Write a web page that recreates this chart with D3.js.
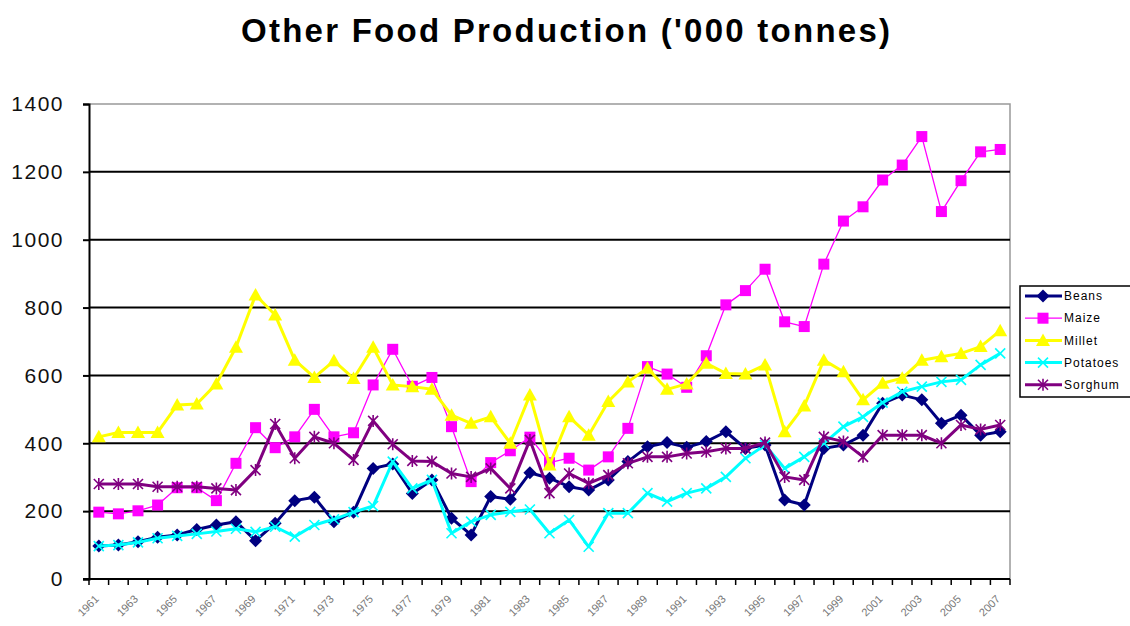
<!DOCTYPE html>
<html>
<head>
<meta charset="utf-8">
<script src="https://cdn.jsdelivr.net/npm/d3@7"></script>
<style>
	body { margin: 0; background: #fff; }
	text { font-family: Arial, "Liberation Sans", sans-serif; }
</style>
</head>
<body>
<script>
// chart data, 1961 - 2007
var years = d3.range(1961, 2008);

var beans = [97, 100, 110, 123, 130, 146, 159, 169, 113, 164,
	231, 241, 169, 197, 326, 339, 252, 292, 179, 130,
	243, 235, 313, 297, 272, 262, 292, 346, 390, 402,
	388, 405, 434, 385, 395, 233, 218, 385, 395, 424,
	518, 542, 528, 459, 483, 424, 434];

var maize = [197, 192, 201, 218, 269, 269, 231, 341, 446, 387,
	419, 500, 419, 431, 572, 677, 568, 594, 449, 287,
	343, 378, 418, 343, 356, 321, 360, 444, 626, 604,
	565, 658, 808, 850, 913, 758, 744, 928, 1055, 1097,
	1176, 1220, 1304, 1083, 1174, 1259, 1266];

var millet = [419, 432, 432, 432, 513, 516, 575, 683, 837, 778,
	645, 594, 643, 591, 683, 572, 567, 559, 483, 459,
	478, 400, 542, 336, 478, 424, 523, 581, 621, 559,
	575, 636, 606, 604, 631, 434, 510, 645, 611, 528,
	577, 592, 645, 655, 665, 685, 732];

var potatoes = [97, 100, 108, 120, 127, 133, 140, 148, 139, 154,
	125, 159, 176, 197, 215, 346, 267, 292, 135, 169,
	189, 198, 205, 135, 174, 95, 194, 194, 253, 228,
	253, 267, 301, 356, 395, 326, 360, 400, 449, 478,
	520, 552, 567, 581, 587, 631, 665];

var sorghum = [280, 280, 280, 272, 272, 272, 267, 262, 321, 457,
	356, 419, 400, 351, 466, 397, 348, 346, 311, 301,
	326, 267, 410, 253, 311, 282, 306, 341, 360, 360,
	370, 375, 385, 385, 402, 301, 292, 419, 405, 360,
	424, 424, 424, 400, 454, 441, 454];

var yTicks = [0, 200, 400, 600, 800, 1000, 1200, 1400];
var xTickLabels = years.filter(function(d){ return d % 2 == 1; });

var seriesNames = ["Beans", "Maize", "Millet", "Potatoes", "Sorghum"];
var seriesValues = [beans, maize, millet, potatoes, sorghum];

// styles per series
var styles = {
	"Beans":    {color: "#000080", width: 3,   marker: "diamond"},
	"Maize":    {color: "#ff00ff", width: 1.3, marker: "square"},
	"Millet":   {color: "#ffff00", width: 3,   marker: "triangle"},
	"Potatoes": {color: "#00ffff", width: 3,   marker: "x"},
	"Sorghum":  {color: "#800080", width: 3,   marker: "star"}
};

var W = 1130, H = 626;
// plot area ("top" is taken by window, so prefixed)
var plotLeft = 89, plotRight = 1010, plotTop = 104, plotBottom = 579;

var svg = d3.select("body").append("svg")
	.attr("width", W)
	.attr("height", H);

var x = d3.scaleBand().domain(years).range([plotLeft, plotRight]).padding(0);
var y = d3.scaleLinear().domain([0, 1400]).range([plotBottom, plotTop]);
var cx = function(yr){ return x(yr) + x.bandwidth() / 2; };

// title
svg.append("text")
	.attr("x", 565.5)
	.attr("y", 42)
	.attr("text-anchor", "middle")
	.attr("textLength", 649)
	.attr("lengthAdjust", "spacing")
	.style("font-size", "33px")
	.style("font-weight", "bold")
	.text("Other Food Production ('000 tonnes)");

// plot border (top / right), grey
svg.append("path")
	.attr("d", "M" + plotLeft + "," + plotTop + "H" + plotRight + "V" + plotBottom)
	.attr("fill", "none")
	.attr("stroke", "#999")
	.attr("stroke-width", 1.5);

// gridlines
svg.append("g")
	.selectAll("line")
	.data(yTicks.filter(function(d){ return d > 0 && d < 1400; }))
	.enter().append("line")
	.attr("x1", plotLeft).attr("x2", plotRight)
	.attr("y1", function(d){ return y(d); })
	.attr("y2", function(d){ return y(d); })
	.attr("stroke", "#000")
	.attr("stroke-width", 2);

// y axis
var yAxis = svg.append("g")
	.attr("transform", "translate(" + plotLeft + ",0)")
	.call(d3.axisLeft(y).tickValues(yTicks).tickFormat(d3.format("d"))
		.tickSize(6).tickPadding(19));
yAxis.select(".domain").attr("stroke", "#000").attr("stroke-width", 2);
yAxis.selectAll(".tick line").attr("stroke", "#000").attr("stroke-width", 2);
yAxis.selectAll(".tick text")
	.style("font-size", "21px")
	.style("letter-spacing", "1.5px")
	.attr("fill", "#111")
	.attr("font-family", null);

// x axis: ticks at category edges
var xEdges = years.map(function(d){ return x(d); }).concat([plotRight]);
svg.append("line")
	.attr("x1", plotLeft - 6).attr("x2", plotRight)
	.attr("y1", plotBottom).attr("y2", plotBottom)
	.attr("stroke", "#000")
	.attr("stroke-width", 2);
svg.append("g")
	.selectAll("line")
	.data(xEdges)
	.enter().append("line")
	.attr("x1", function(d){ return d; })
	.attr("x2", function(d){ return d; })
	.attr("y1", plotBottom)
	.attr("y2", plotBottom + 6)
	.attr("stroke", "#000")
	.attr("stroke-width", 1.5);

// x labels, rotated
svg.append("g")
	.selectAll("text")
	.data(xTickLabels)
	.enter().append("text")
	.attr("transform", function(d){
		return "translate(" + (cx(d) - 2) + "," + (plotBottom + 18) + ") rotate(-45)";
	})
	.attr("text-anchor", "end")
	.attr("dy", "0.35em")
	.style("font-size", "11px")
	.attr("fill", "#777")
	.text(function(d){ return d; });

// marker shapes
function drawMarker(g, type, color, px, py) {
	if (type == "diamond") {
		g.append("path")
			.attr("transform", "translate(" + px + "," + py + ")")
			.attr("d", "M0,-6.5L6.5,0L0,6.5L-6.5,0Z")
			.attr("fill", color);
	} else if (type == "square") {
		g.append("rect")
			.attr("x", px - 5.5).attr("y", py - 5.5)
			.attr("width", 11).attr("height", 11)
			.attr("fill", color);
	} else if (type == "triangle") {
		g.append("path")
			.attr("transform", "translate(" + px + "," + py + ")")
			.attr("d", "M0,-7L7,5.5L-7,5.5Z")
			.attr("fill", color);
	} else if (type == "x") {
		g.append("path")
			.attr("transform", "translate(" + px + "," + py + ")")
			.attr("d", "M-5,-5L5,5M-5,5L5,-5")
			.attr("stroke", color)
			.attr("stroke-width", 1.6);
	} else if (type == "star") {
		g.append("path")
			.attr("transform", "translate(" + px + "," + py + ")")
			.attr("d", "M-5,-5L5,5M-5,5L5,-5M0,-6V6")
			.attr("stroke", color)
			.attr("stroke-width", 1.6);
	}
}

var line = d3.line()
	.x(function(d, i){ return cx(years[i]); })
	.y(function(d){ return y(d); });

// series, drawn in legend order
seriesNames.forEach(function(name, k){
	var st = styles[name];
	var g = svg.append("g").attr("id", "series_" + name);
	g.append("path")
		.datum(seriesValues[k])
		.attr("d", line)
		.attr("fill", "none")
		.attr("stroke", st.color)
		.attr("stroke-width", st.width)
		.attr("stroke-linejoin", "round");
	seriesValues[k].forEach(function(v, i){
		drawMarker(g, st.marker, st.color, cx(years[i]), y(v));
	});
});

// legend
var lg = svg.append("g");
lg.append("rect")
	.attr("x", 1020).attr("y", 286)
	.attr("width", 130).attr("height", 111)
	.attr("fill", "#fff")
	.attr("stroke", "#000")
	.attr("stroke-width", 1.5);
seriesNames.forEach(function(name, k){
	var st = styles[name];
	var ly = 296 + k * 22.2;
	lg.append("line")
		.attr("x1", 1025).attr("x2", 1062)
		.attr("y1", ly).attr("y2", ly)
		.attr("stroke", st.color)
		.attr("stroke-width", st.width);
	drawMarker(lg, st.marker, st.color, 1043, ly);
	lg.append("text")
		.attr("x", 1064)
		.attr("y", ly)
		.attr("dy", "0.35em")
		.style("font-size", "12px")
		.style("letter-spacing", "1px")
		.attr("fill", "#000")
		.text(name);
});
</script>
</body>
</html>
